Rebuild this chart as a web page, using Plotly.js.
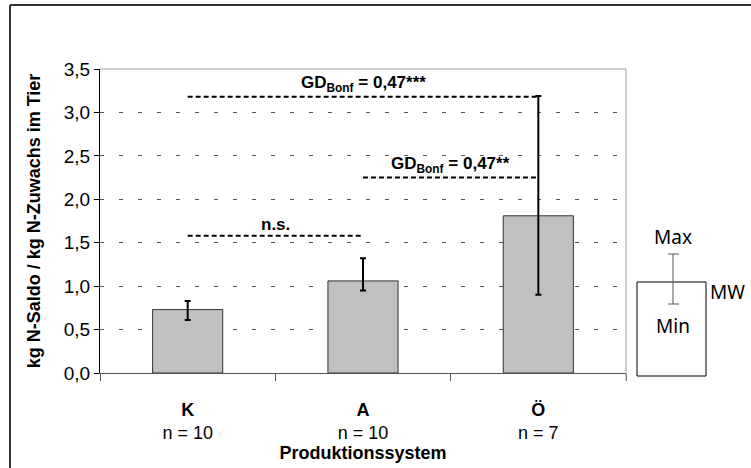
<!DOCTYPE html>
<html>
<head>
<meta charset="utf-8">
<script src="https://cdn.plot.ly/plotly-3.0.1.min.js"></script>
<style>html,body{margin:0;padding:0;background:#fff;}#chart{width:751px;height:468px;}</style>
</head>
<body>
<div id="chart"></div>
<script>
// ---- data ----
var categories = ['K', 'A', 'Ö'];
var nValues = [10, 10, 7];
var meanValues = [0.73, 1.06, 1.81];
var maxValues = [0.83, 1.32, 3.19];
var minValues = [0.61, 0.95, 0.90];
var yTickValues = [0, 0.5, 1, 1.5, 2, 2.5, 3, 3.5];
// significance comparisons: from, to, height, label
var sigFrom = ['K', 'A', 'K'];
var sigTo = ['Ö', 'Ö', 'A'];
var sigY = [3.18, 2.25, 1.58];
var sigLabels = ['GD<sub>Bonf</sub> = 0,47***', 'GD<sub>Bonf</sub> = 0,47**', 'n.s.'];

var FONT = 'Liberation Sans, Arial, sans-serif';

var errPlus = meanValues.map(function (m, i) { return maxValues[i] - m; });
var errMinus = meanValues.map(function (m, i) { return m - minValues[i]; });

var traces = [{
  type: 'bar',
  x: categories,
  y: meanValues,
  width: 0.4,
  marker: { color: '#c0c0c0', line: { color: '#333333', width: 1 } },
  error_y: { type: 'data', symmetric: false, array: errPlus, arrayminus: errMinus,
             color: '#000000', thickness: 2, width: 3 },
  hoverinfo: 'none'
}];

var annotations = [];
for (var i = 0; i < sigFrom.length; i++) {
  traces.push({
    type: 'scatter', mode: 'lines',
    x: [sigFrom[i], sigTo[i]], y: [sigY[i], sigY[i]],
    line: { color: '#000000', width: 2, dash: '5px,3px' },
    hoverinfo: 'none'
  });
  var a = categories.indexOf(sigFrom[i]), b = categories.indexOf(sigTo[i]);
  annotations.push({
    xref: 'x', yref: 'y', x: (a + b) / 2, y: sigY[i],
    text: '<b>' + sigLabels[i] + '</b>', showarrow: false,
    yanchor: 'bottom', yshift: 0,
    font: { family: FONT, size: 17, color: '#000' }
  });
}

// legend inset (schematic), paper coordinates
function px(x) { return (x - 100) / 526; }
function py(y) { return (373 - y) / 304; }
var LFONT = 'Noto Sans, Open Sans, sans-serif';
annotations.push({ xref: 'paper', yref: 'paper', x: px(673), y: py(237), text: 'Max', showarrow: false,
  font: { family: LFONT, size: 19, color: '#000' }, xanchor: 'center', yanchor: 'middle' });
annotations.push({ xref: 'paper', yref: 'paper', x: px(708), y: py(292), text: 'MW', showarrow: false,
  font: { family: LFONT, size: 19, color: '#000' }, xanchor: 'left', yanchor: 'middle' });
annotations.push({ xref: 'paper', yref: 'paper', x: px(673), y: py(326), text: 'Min', showarrow: false,
  font: { family: LFONT, size: 19, color: '#000' }, xanchor: 'center', yanchor: 'middle' });

var shapes = [
  // outer frame
  { type: 'line', xref: 'paper', yref: 'paper', x0: px(10), x1: px(10), y0: py(5), y1: py(470), line: { color: '#333', width: 2 } },
  { type: 'line', xref: 'paper', yref: 'paper', x0: px(10), x1: px(760), y0: py(5), y1: py(5), line: { color: '#333', width: 2 } },
  // plot area top & right border
  { type: 'line', xref: 'paper', yref: 'paper', x0: 0, x1: 1, y0: 1, y1: 1, line: { color: '#a0a0a0', width: 1 } },
  { type: 'line', xref: 'paper', yref: 'paper', x0: 1, x1: 1, y0: py(380), y1: 1, line: { color: '#a0a0a0', width: 1 } },
  // legend inset box
  { type: 'rect', xref: 'paper', yref: 'paper', x0: px(637), x1: px(706), y0: py(376), y1: py(282),
    line: { color: '#000', width: 1 }, fillcolor: '#fff' },
  { type: 'line', xref: 'paper', yref: 'paper', x0: px(673), x1: px(673), y0: py(304), y1: py(254), line: { color: '#555', width: 1 } },
  { type: 'line', xref: 'paper', yref: 'paper', x0: px(668), x1: px(679), y0: py(254), y1: py(254), line: { color: '#555', width: 1 } },
  { type: 'line', xref: 'paper', yref: 'paper', x0: px(668), x1: px(679), y0: py(304), y1: py(304), line: { color: '#555', width: 1 } }
];

var tickText = categories.map(function (c, i) {
  return '<b>' + c + '</b><br>n = ' + nValues[i];
});

var layout = {
  width: 751, height: 468,
  margin: { l: 100, r: 125, t: 69, b: 95, pad: 0 },
  paper_bgcolor: '#fff', plot_bgcolor: '#fff',
  separators: ',.',
  showlegend: false,
  font: { family: FONT, color: '#000' },
  xaxis: {
    type: 'category', range: [-0.5, 2.5],
    tickvals: categories, ticktext: tickText,
    tickson: 'boundaries', ticks: 'outside', ticklen: 7, tickcolor: '#555', tickwidth: 1,
    ticklabelstandoff: 20,
    showline: true, linecolor: '#555', linewidth: 1,
    showgrid: false, zeroline: false,
    tickfont: { family: FONT, size: 18, color: '#000' },
    title: { text: '<b>Produktionssystem</b>', font: { family: FONT, size: 18, color: '#000' }, standoff: 2 }
  },
  yaxis: {
    range: [0, 3.5], tickvals: yTickValues, tickformat: '.1f',
    ticks: 'outside', ticklen: 5, tickcolor: '#000', tickwidth: 1,
    showline: true, linecolor: '#000', linewidth: 1,
    showgrid: true, gridcolor: '#555', gridwidth: 1, griddash: '4px,15px',
    zeroline: false,
    tickfont: { family: FONT, size: 19, color: '#000' },
    title: { text: '<b>kg N-Saldo / kg N-Zuwachs im Tier</b>', font: { family: FONT, size: 18, color: '#000' }, standoff: 18 }
  },
  annotations: annotations,
  shapes: shapes
};

Plotly.newPlot('chart', traces, layout, { displayModeBar: false, staticPlot: true });
</script>
</body>
</html>
